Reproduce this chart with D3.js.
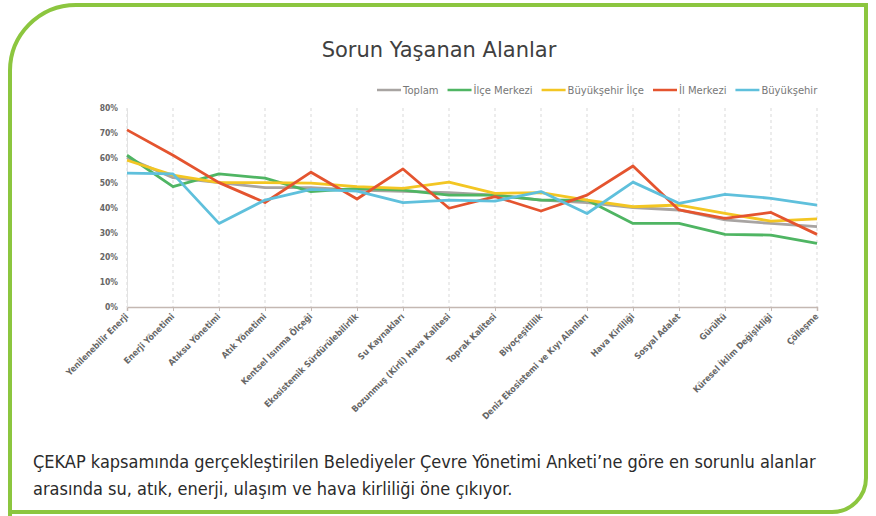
<!DOCTYPE html>
<html>
<head>
<meta charset="utf-8">
<script src="https://cdn.jsdelivr.net/npm/d3@7"></script>
<style>
  html, body { margin: 0; padding: 0; background: #fff; }
  svg { display: block; }
</style>
</head>
<body>
<svg id="chart" width="876" height="516"></svg>
<script>
// categories and series (percent)
const categories = [
  "Yenilenebilir Enerji", "Enerji Yönetimi", "Atıksu Yönetimi", "Atık Yönetimi",
  "Kentsel Isınma Ölçeği", "Ekosistemik Sürdürülebilirlik", "Su Kaynakları",
  "Bozunmuş (Kirli) Hava Kalitesi", "Toprak Kalitesi", "Biyoçeşitlilik",
  "Deniz Ekosistemi ve Kıyı Alanları", "Hava Kirliliği", "Sosyal Adalet",
  "Gürültü", "Küresel İklim Değişikliği", "Çölleşme"
];
const yTicks = [0, 10, 20, 30, 40, 50, 60, 70, 80];

const toplam         = [60, 52, 50, 48, 48, 47, 46.5, 46, 45, 43, 42, 40, 39, 35, 33.6, 32.3];
const ilceMerkezi    = [61, 48.4, 53.5, 51.8, 46.4, 47.7, 47, 45, 45, 43, 43, 33.6, 33.6, 29.2, 28.9, 25.6];
const buyuksehirIlce = [59, 53, 50, 50, 49.8, 48.4, 47.7, 50.2, 45.7, 46, 43, 40.3, 41, 37.6, 34.5, 35.4];
const ilMerkezi      = [71.2, 61, 50, 42, 54.2, 43.4, 55.5, 39.7, 44.4, 38.6, 45, 56.7, 39, 35.6, 38, 29.2];
const buyuksehir     = [53.8, 53.5, 33.6, 43, 47.3, 46.6, 42, 43, 42.6, 46.4, 37.6, 50.2, 41.7, 45.3, 43.7, 41];

const seriesNames  = ["Toplam", "İlçe Merkezi", "Büyükşehir İlçe", "İl Merkezi", "Büyükşehir"];
const seriesValues = [toplam, ilceMerkezi, buyuksehirIlce, ilMerkezi, buyuksehir];
const seriesColors = ["#a8a4a2", "#4fb563", "#f3c623", "#e4542f", "#5fc0dc"];

const svg = d3.select("#chart");

// green frame
svg.append("path")
  .attr("d", "M10,518 L10,72 A66,66 0 0 1 76,5 L866,5 L866,478 A34,34 0 0 1 832,512 L8,512")
  .attr("fill", "none")
  .attr("stroke", "#8cc63f")
  .attr("stroke-width", 4);

// title
svg.append("text")
  .attr("x", 439).attr("y", 57)
  .attr("text-anchor", "middle")
  .style("font-family", "'DejaVu Sans', sans-serif")
  .style("font-size", "21px")
  .style("fill", "#404040")
  .text("Sorun Yaşanan Alanlar");

const x = d3.scalePoint().domain(categories).range([127, 817]);
const y = d3.scaleLinear().domain([0, 80]).range([307, 108]);

const g = svg.append("g");

// vertical dashed grid
g.selectAll(".grid").data(categories).enter()
  .append("line")
  .attr("x1", d => x(d)).attr("x2", d => x(d))
  .attr("y1", y(80)).attr("y2", y(0))
  .attr("stroke", "#d9d9d9")
  .attr("stroke-width", 1)
  .attr("stroke-dasharray", "3,3");

// x axis
const xAxis = g.append("g")
  .attr("transform", `translate(0,${y(0)})`)
  .call(d3.axisBottom(x).tickSize(4).tickFormat(""));
xAxis.select(".domain").attr("stroke", "#c4b8b2").attr("stroke-width", 1.5);
xAxis.selectAll(".tick line").attr("stroke", "#c4b8b2");

// y labels
const yAxis = g.append("g")
  .attr("transform", `translate(${x(categories[0])},0)`)
  .call(d3.axisLeft(y).tickValues(yTicks).tickSize(0).tickPadding(9).tickFormat(d => d + "%"));
yAxis.select(".domain").attr("stroke", "#e3e3e3");
yAxis.selectAll("text")
  .style("font-family", "'DejaVu Sans Condensed', 'DejaVu Sans', sans-serif")
  .style("font-size", "8.5px")
  .style("font-weight", "bold")
  .style("fill", "#666");

// rotated category labels
g.selectAll(".xlab").data(categories).enter()
  .append("text")
  .attr("transform", d => `translate(${x(d) + 2},${y(0) + 10}) rotate(-45)`)
  .attr("text-anchor", "end")
  .style("font-family", "'DejaVu Sans Condensed', 'DejaVu Sans', sans-serif")
  .style("font-size", "8.8px")
  .style("font-weight", "bold")
  .style("fill", "#666")
  .text(d => d);

// lines
const line = d3.line()
  .x((d, i) => x(categories[i]))
  .y(d => y(d));

g.selectAll(".series").data(seriesValues).enter()
  .append("path")
  .attr("d", d => line(d))
  .attr("fill", "none")
  .attr("stroke", (d, i) => seriesColors[i])
  .attr("stroke-width", 2.8)
  .attr("stroke-linejoin", "round");

// legend
const legend = svg.append("g").attr("transform", "translate(377,90)");
let lx = 0;
seriesNames.forEach((name, i) => {
  legend.append("line")
    .attr("x1", lx).attr("x2", lx + 24)
    .attr("y1", 0).attr("y2", 0)
    .attr("stroke", seriesColors[i])
    .attr("stroke-width", 2.5);
  const t = legend.append("text")
    .attr("x", lx + 26).attr("y", 3.5)
    .style("font-family", "'DejaVu Sans', sans-serif")
    .style("font-size", "10px")
    .style("fill", "#777")
    .text(name);
  lx += 26 + t.node().getComputedTextLength() + 9;
});

// caption
const caption = [
  "ÇEKAP kapsamında gerçekleştirilen Belediyeler Çevre Yönetimi Anketi’ne göre en sorunlu alanlar",
  "arasında su, atık, enerji, ulaşım ve hava kirliliği öne çıkıyor."
];
svg.selectAll(".cap").data(caption).enter()
  .append("text")
  .attr("x", 33)
  .attr("y", (d, i) => 468 + i * 27)
  .style("font-family", "'Liberation Sans Narrow', 'DejaVu Sans Condensed', sans-serif")
  .style("font-size", "18px")
  .style("fill", "#2b2b2b")
  .text(d => d);
</script>
</body>
</html>
